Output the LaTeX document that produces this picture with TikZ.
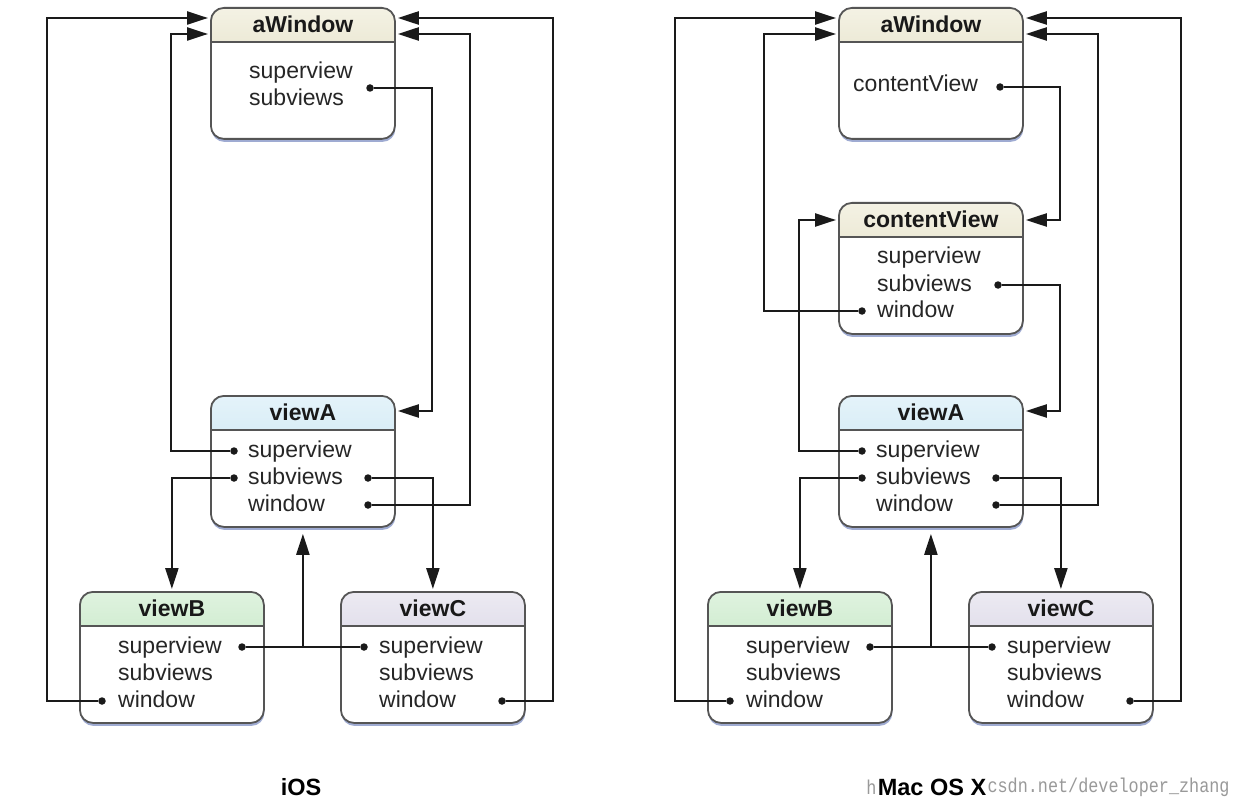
\documentclass[tikz,border=0pt]{standalone}
\usepackage{fontspec}
\setmainfont{Liberation Sans}
\newfontfamily\wmfont{Liberation Mono}
\usetikzlibrary{arrows.meta,shadows,calc}

\definecolor{hdTanT}{HTML}{F4F2E4}\definecolor{hdTanB}{HTML}{D8D3B2}
\definecolor{hdBlueT}{HTML}{E4F3FA}\definecolor{hdBlueB}{HTML}{BCDEEC}
\definecolor{hdGreenT}{HTML}{DFF3DF}\definecolor{hdGreenB}{HTML}{B0DDB0}
\definecolor{hdLavT}{HTML}{ECEAF2}\definecolor{hdLavB}{HTML}{C9C5DB}
\definecolor{boxline}{HTML}{555555}
\definecolor{connline}{HTML}{1A1A1A}
\definecolor{shadowblue}{HTML}{7F90C4}

\tikzset{
  objbox/.style 2 args={draw=boxline, line width=1.8pt, rounded corners=13pt, fill=white,
    minimum width=184pt, minimum height=131pt, inner sep=0pt, anchor=north west,
    drop shadow={shadow xshift=0.5pt, shadow yshift=-3pt, fill=shadowblue, opacity=0.75},
    path picture={\shade[sharp corners, top color=#1, bottom color=#2]
        (path picture bounding box.north west) rectangle ([yshift=-34pt]path picture bounding box.north east);
      \draw[sharp corners, boxline, line width=1.3pt]
        ([yshift=-34pt]path picture bounding box.north west) -- ([yshift=-34pt]path picture bounding box.north east);}},
  titletext/.style={inner sep=0pt, font=\bfseries\fontsize{23}{27}\selectfont, text=black!90},
  bodytext/.style={anchor=west, inner sep=0pt, text height=17pt, text depth=5pt,
    font=\fontsize{23}{27}\selectfont, text=black!85},
  dotnode/.style={circle, fill=connline, inner sep=0pt, minimum size=7.5pt},
  conn/.style={draw=connline, line width=2.3pt},
  arr/.style={-{Triangle[length=21pt,width=13pt]}, shorten >=2pt},
  oslabel/.style={inner sep=1pt, font=\bfseries\fontsize{23.5}{27}\selectfont},
  wmtext/.style={anchor=west, inner sep=0pt, text=black!40, font=\wmfont\fontsize{20}{22}\selectfont, xscale=0.84},
}

\newcommand\DrawObj[6]{%
  \node[objbox={#5}{#6}] (#1) at (#2,#3) {};
  \node[titletext] (#1-t) at ([yshift=-17pt]#1.north) {#4};
}

\begin{document}
\begin{tikzpicture}[x=1pt,y=-1pt]
\useasboundingbox (0,0) rectangle (1236,810);
\fill[white] (0,0) rectangle (1236,810);

% ================= iOS =================
\DrawObj{aw}{210}{7}{aWindow}{hdTanT}{hdTanB}
\DrawObj{va}{210}{395}{viewA}{hdBlueT}{hdBlueB}
\DrawObj{vb}{79}{591}{viewB}{hdGreenT}{hdGreenB}
\DrawObj{vc}{340}{591}{viewC}{hdLavT}{hdLavB}

\node[bodytext] (aw-l1) at (249,73) {superview};
\node[bodytext] (aw-l2) at (249,100) {subviews};
\node[dotnode] (aw-d) at (370,88) {};

\node[bodytext] (va-l1) at (248,451) {superview};
\node[bodytext] (va-l2) at (248,478) {subviews};
\node[bodytext] (va-l3) at (248,505) {window};
\node[dotnode] (va-sup) at (234,451) {};
\node[dotnode] (va-subl) at (234,478) {};
\node[dotnode] (va-subr) at (368,478) {};
\node[dotnode] (va-win) at (368,505) {};

\node[bodytext] (vb-l1) at (118,647) {superview};
\node[bodytext] (vb-l2) at (118,674) {subviews};
\node[bodytext] (vb-l3) at (118,701) {window};
\node[dotnode] (vb-sup) at (242,647) {};
\node[dotnode] (vb-win) at (102,701) {};

\node[bodytext] (vc-l1) at (379,647) {superview};
\node[bodytext] (vc-l2) at (379,674) {subviews};
\node[bodytext] (vc-l3) at (379,701) {window};
\node[dotnode] (vc-sup) at (364,647) {};
\node[dotnode] (vc-win) at (502,701) {};

\coordinate (L1) at (47,18);
\coordinate (L2) at (171,34);
\coordinate (R1) at (553,18);
\coordinate (R2) at (470,34);
\coordinate (S1) at (432,411);

\draw[conn,arr] (aw-d) -| (S1) -- (va.east |- S1);
\draw[conn,arr] (va-sup) -| (L2) -- (aw.west |- L2);
\draw[conn,arr] (va-subl) -| (vb.north);
\draw[conn,arr] (va-subr) -| (vc.north);
\draw[conn,arr] (va-win) -| (R2) -- (aw.east |- R2);
\draw[conn] (vb-sup) -- (vc-sup);
\draw[conn,arr,shorten >=6pt] (va.south |- vb-sup) -- (va.south);
\draw[conn,arr] (vb-win) -| (L1) -- (aw.west |- L1);
\draw[conn,arr] (vc-win) -| (R1) -- (aw.east |- R1);

% ================= Mac OS X =================
\DrawObj{aw2}{838}{7}{aWindow}{hdTanT}{hdTanB}
\DrawObj{cv}{838}{202}{contentView}{hdTanT}{hdTanB}
\DrawObj{va2}{838}{395}{viewA}{hdBlueT}{hdBlueB}
\DrawObj{vb2}{707}{591}{viewB}{hdGreenT}{hdGreenB}
\DrawObj{vc2}{968}{591}{viewC}{hdLavT}{hdLavB}

\node[bodytext] (aw2-l1) at (853,86) {contentView};
\node[dotnode] (aw2-d) at (1000,87) {};

\node[bodytext] (cv-l1) at (877,258) {superview};
\node[bodytext] (cv-l2) at (877,285) {subviews};
\node[bodytext] (cv-l3) at (877,311) {window};
\node[dotnode] (cv-sub) at (998,285) {};
\node[dotnode] (cv-win) at (862,311) {};

\node[bodytext] (va2-l1) at (876,451) {superview};
\node[bodytext] (va2-l2) at (876,478) {subviews};
\node[bodytext] (va2-l3) at (876,505) {window};
\node[dotnode] (va2-sup) at (862,451) {};
\node[dotnode] (va2-subl) at (862,478) {};
\node[dotnode] (va2-subr) at (996,478) {};
\node[dotnode] (va2-win) at (996,505) {};

\node[bodytext] (vb2-l1) at (746,647) {superview};
\node[bodytext] (vb2-l2) at (746,674) {subviews};
\node[bodytext] (vb2-l3) at (746,701) {window};
\node[dotnode] (vb2-sup) at (870,647) {};
\node[dotnode] (vb2-win) at (730,701) {};

\node[bodytext] (vc2-l1) at (1007,647) {superview};
\node[bodytext] (vc2-l2) at (1007,674) {subviews};
\node[bodytext] (vc2-l3) at (1007,701) {window};
\node[dotnode] (vc2-sup) at (992,647) {};
\node[dotnode] (vc2-win) at (1130,701) {};

\coordinate (L1b) at (675,18);
\coordinate (L2b) at (764,34);
\coordinate (L2c) at (799,220);
\coordinate (R1b) at (1181,18);
\coordinate (R2b) at (1098,34);
\coordinate (S2a) at (1060,220);
\coordinate (S2b) at (1060,411);

\draw[conn,arr] (aw2-d) -| (S2a) -- (cv.east |- S2a);
\draw[conn,arr] (cv-sub) -| (S2b) -- (va2.east |- S2b);
\draw[conn,arr] (cv-win) -| (L2b) -- (aw2.west |- L2b);
\draw[conn,arr] (va2-sup) -| (L2c) -- (cv.west |- L2c);
\draw[conn,arr] (va2-subl) -| (vb2.north);
\draw[conn,arr] (va2-subr) -| (vc2.north);
\draw[conn,arr] (va2-win) -| (R2b) -- (aw2.east |- R2b);
\draw[conn] (vb2-sup) -- (vc2-sup);
\draw[conn,arr,shorten >=6pt] (va2.south |- vb2-sup) -- (va2.south);
\draw[conn,arr] (vb2-win) -| (L1b) -- (aw2.west |- L1b);
\draw[conn,arr] (vc2-win) -| (R1b) -- (aw2.east |- R1b);

% ================= labels =================
\node[oslabel] (ios) at (301,787) {iOS};
\node[oslabel] (mac) at (932,787) {Mac OS X};
\node[wmtext, anchor=east] (wm1) at (mac.west) {h};
\node[wmtext] (wm2) at (mac.east) {csdn.net/developer\_zhang};
\end{tikzpicture}
\end{document}
